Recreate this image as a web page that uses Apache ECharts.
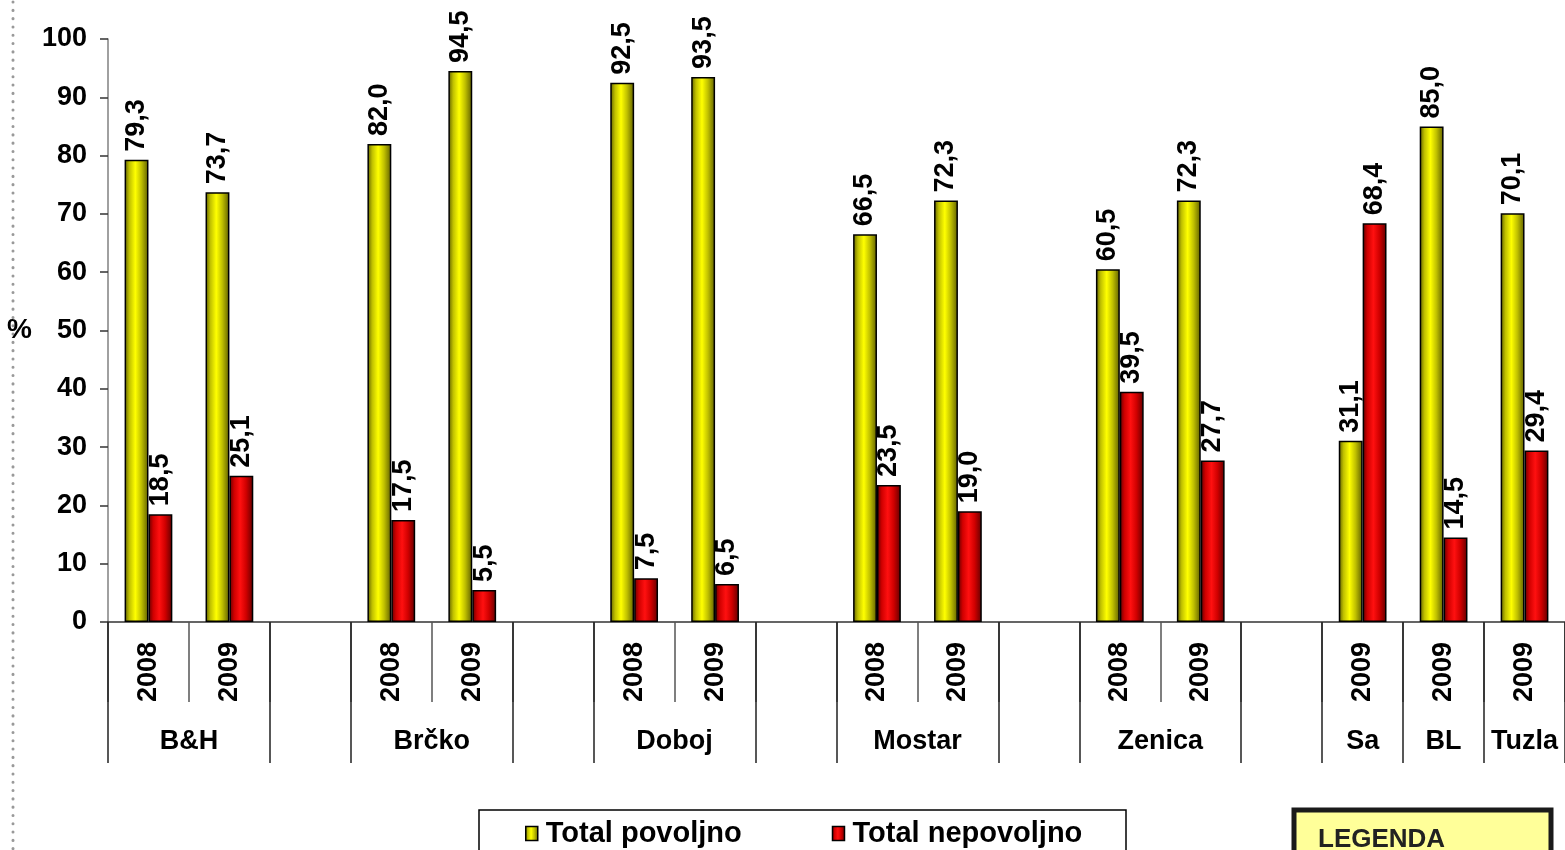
<!DOCTYPE html>
<html>
<head>
<meta charset="utf-8">
<script src="https://cdn.jsdelivr.net/npm/echarts@6/dist/echarts.min.js"></script>
<style>
  html, body { margin: 0; padding: 0; background: #fff; }
  #chart { width: 1565px; height: 850px; }
</style>
</head>
<body>
<div id="chart"></div>
<script>
const years = ['2008', '2009', '', '2008', '2009', '', '2008', '2009', '', '2008', '2009', '', '2008', '2009', '', '2009', '2009', '2009']
const slotGroup = ['B&H', 'B&H', '', 'Brčko', 'Brčko', '', 'Doboj', 'Doboj', '', 'Mostar', 'Mostar', '', 'Zenica', 'Zenica', '', 'Sa', 'BL', 'Tuzla']
const povoljno = [79.3, 73.7, '-', 82.0, 94.5, '-', 92.5, 93.5, '-', 66.5, 72.3, '-', 60.5, 72.3, '-', 31.1, 85.0, 70.1]
const nepovoljno = [18.5, 25.1, '-', 17.5, 5.5, '-', 7.5, 6.5, '-', 23.5, 19.0, '-', 39.5, 27.7, '-', 68.4, 14.5, 29.4]
const yTicks = [0, 10, 20, 30, 40, 50, 60, 70, 80, 90, 100]

const font = 'Arial, "Liberation Sans", sans-serif'

// group centres and group borders, in slot units
const groupCenters = []
const groupNames = {}
const groupBorders = [0]
let start = 0
for (let i = 1; i <= slotGroup.length; i++) {
  if (i === slotGroup.length || slotGroup[i] !== slotGroup[i - 1]) {
    if (slotGroup[start] !== '') {
      const c = (start + i) / 2
      groupCenters.push(c)
      groupNames[c] = slotGroup[start]
    }
    groupBorders.push(i)
    start = i
  }
}

function shade(dark, mid, light) {
  return new echarts.graphic.LinearGradient(0, 0, 1, 0, [
    { offset: 0, color: dark },
    { offset: 0.2, color: mid },
    { offset: 0.45, color: light },
    { offset: 0.7, color: mid },
    { offset: 1, color: dark },
  ])
}

const valueLabel = {
  show: true,
  position: 'top',
  rotate: 90,
  align: 'left',
  verticalAlign: 'middle',
  distance: 8,
  fontSize: 27,
  fontWeight: 'bold',
  fontFamily: font,
  color: '#000',
  formatter: (p) => p.value.toFixed(1).replace('.', ','),
}

const chart = echarts.init(document.getElementById('chart'))
chart.setOption({
  animation: false,
  grid: { left: 108, right: 0, top: 39, bottom: 228, containLabel: false },
  legend: {
    left: 520,
    top: 814,
    icon: 'rect',
    itemWidth: 12,
    itemHeight: 14,
    itemGap: 90,
    itemStyle: { borderColor: '#000', borderWidth: 1.5 },
    textStyle: { fontSize: 29, fontWeight: 'bold', fontFamily: font, color: '#000', padding: [0, 0, 0, 3] },
    data: ['Total povoljno', 'Total nepovoljno'],
  },
  xAxis: [
    {
      type: 'category',
      data: years,
      axisLine: { lineStyle: { color: '#333', width: 1.5 } },
      axisTick: { show: true, alignWithLabel: false, interval: 0, length: 80, lineStyle: { color: '#555', width: 1.5 } },
      axisLabel: {
        interval: 0,
        rotate: 90,
        margin: 20,
        fontSize: 27,
        fontWeight: 'bold',
        fontFamily: font,
        color: '#000',
      },
    },
    {
      type: 'value',
      position: 'bottom',
      min: 0,
      max: slotGroup.length,
      axisLine: { show: false },
      splitLine: { show: false },
      axisTick: { show: true, customValues: groupBorders, length: 141, inside: false, lineStyle: { color: '#222', width: 1.5 } },
      axisLabel: {
        customValues: groupCenters,
        margin: 106,
        fontSize: 27,
        fontWeight: 'bold',
        fontFamily: font,
        color: '#000',
        formatter: (v) => groupNames[v] || '',
      },
    },
  ],
  yAxis: {
    type: 'value',
    min: 0,
    max: 100,
    interval: 10,
    name: '%',
    nameLocation: 'middle',
    nameRotate: 0,
    nameGap: 76,
    nameTextStyle: { fontSize: 28, fontWeight: 'bold', fontFamily: font, color: '#000' },
    axisLine: { show: true, lineStyle: { color: '#808080', width: 1.5 } },
    axisTick: { show: true, length: 8, lineStyle: { color: '#333', width: 1.5 } },
    splitLine: { show: false },
    axisLabel: {
      margin: 21,
      fontSize: 27,
      fontWeight: 'bold',
      fontFamily: font,
      color: '#000',
      customValues: yTicks,
    },
  },
  series: [
    {
      name: 'Total povoljno',
      type: 'bar',
      xAxisIndex: 0,
      data: povoljno,
      barGap: '0%',
      barCategoryGap: '41%',
      itemStyle: { color: shade('#5e5e00', '#c0c000', '#ffff00'), borderColor: '#000', borderWidth: 1.5 },
      label: valueLabel,
    },
    {
      name: 'Total nepovoljno',
      type: 'bar',
      xAxisIndex: 0,
      data: nepovoljno,
      itemStyle: { color: shade('#600000', '#d00000', '#ff1010'), borderColor: '#000', borderWidth: 1.5 },
      label: valueLabel,
    },
  ],
  graphic: [
    {
      type: 'line',
      shape: { x1: 13, y1: 2, x2: 13, y2: 850 },
      style: { stroke: '#999', lineWidth: 3, lineDash: [0.1, 8.2], lineCap: 'round' },
      silent: true,
    },
    {
      type: 'rect',
      shape: { x: 479, y: 810, width: 647, height: 60 },
      style: { fill: 'none', stroke: '#000', lineWidth: 1.5 },
      silent: true,
    },
    {
      type: 'rect',
      shape: { x: 1294, y: 810, width: 257, height: 60 },
      style: { fill: '#ffff99', stroke: '#1a1a1a', lineWidth: 5 },
      silent: true,
    },
    {
      type: 'text',
      left: 1318,
      top: 827,
      style: { text: 'LEGENDA', fontSize: 26, fontWeight: 'bold', fontFamily: font, fill: '#222' },
      silent: true,
    },
  ],
})
</script>
</body>
</html>
